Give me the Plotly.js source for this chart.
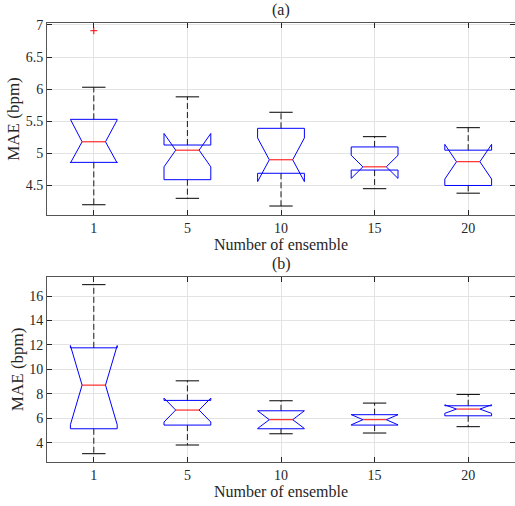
<!DOCTYPE html>
<html>
<head>
<meta charset="utf-8">
<script src="https://cdn.plot.ly/plotly-3.0.1.min.js"></script>
<style>html,body{margin:0;padding:0;overflow:hidden;background:#fff}</style>
</head>
<body>
<div id="chart" style="width:515px;height:506px"></div>
<script>
// Categories
const categories = ['1', '5', '10', '15', '20'];

// (a) box statistics
const aWhiskLo = [4.20, 4.30, 4.18, 4.45, 4.38];
const aQ1      = [4.86, 4.59, 4.69, 4.74, 4.50];
const aNotchLo = [4.85, 4.79, 4.56, 4.61, 4.60];
const aMedian  = [5.18, 5.05, 4.90, 4.79, 4.87];
const aNotchHi = [5.52, 5.31, 5.24, 4.97, 5.14];
const aQ3      = [5.53, 5.13, 5.39, 5.10, 5.05];
const aWhiskHi = [6.03, 5.88, 5.64, 5.26, 5.40];
const aOutlierCat = ['1'];
const aOutlierVal = [6.91];

// (b) box statistics
const bWhiskLo = [3.10, 3.81, 4.73, 4.79, 5.31];
const bQ1      = [5.14, 5.44, 5.14, 5.44, 6.20];
const bNotchLo = [5.47, 5.69, 5.16, 5.46, 6.40];
const bMedian  = [8.71, 6.67, 5.88, 5.88, 6.75];
const bNotchHi = [11.95, 7.65, 6.60, 6.30, 7.10];
const bQ3      = [11.76, 7.46, 6.61, 6.29, 7.02];
const bWhiskHi = [16.93, 9.06, 7.43, 7.24, 7.95];
const bOutlierCat = [];
const bOutlierVal = [];

const W = 0.25; // half box width (axis units)

function boxTraces(st, xa, ya) {
  const bx = [], by = [], mx = [], my = [], wx = [], wy = [], cx = [], cy = [];
  categories.forEach((c, i) => {
    const x = i + 1;
    const q1 = st.q1[i], q3 = st.q3[i], md = st.med[i], nl = st.nlo[i], nh = st.nhi[i];
    bx.push(x - W, x - W, x - W / 2, x - W, x - W, x + W, x + W, x + W / 2, x + W, x + W, x - W, null);
    by.push(q1, nl, md, nh, q3, q3, nh, md, nl, q1, q1, null);
    mx.push(x - W / 2, x + W / 2, null); my.push(md, md, null);
    wx.push(x, x, null, x, x, null); wy.push(q3, st.whi[i], null, q1, st.wlo[i], null);
    cx.push(x - W / 2, x + W / 2, null, x - W / 2, x + W / 2, null);
    cy.push(st.whi[i], st.whi[i], null, st.wlo[i], st.wlo[i], null);
  });
  const ox = st.ocat.map(c => categories.indexOf(c) + 1);
  return [
    {x: wx, y: wy, xaxis: xa, yaxis: ya, mode: 'lines', line: {color: '#1a1a1a', width: 1, dash: '6px,3px'}, hoverinfo: 'skip'},
    {x: cx, y: cy, xaxis: xa, yaxis: ya, mode: 'lines', line: {color: '#000', width: 1}, hoverinfo: 'skip'},
    {x: bx, y: by, xaxis: xa, yaxis: ya, mode: 'lines', line: {color: '#0000ff', width: 1}, hoverinfo: 'skip'},
    {x: mx, y: my, xaxis: xa, yaxis: ya, mode: 'lines', line: {color: '#ff0000', width: 1}, hoverinfo: 'skip'},
    {x: ox, y: st.oval, xaxis: xa, yaxis: ya, mode: 'markers', marker: {symbol: 'cross-thin', size: 5, line: {color: '#ff0000', width: 1}}, hoverinfo: 'skip'}
  ];
}

const traces = [].concat(
  boxTraces({wlo: aWhiskLo, q1: aQ1, nlo: aNotchLo, med: aMedian, nhi: aNotchHi, q3: aQ3, whi: aWhiskHi, ocat: aOutlierCat, oval: aOutlierVal}, 'x', 'y'),
  boxTraces({wlo: bWhiskLo, q1: bQ1, nlo: bNotchLo, med: bMedian, nhi: bNotchHi, q3: bQ3, whi: bWhiskHi, ocat: bOutlierCat, oval: bOutlierVal}, 'x2', 'y2')
);

const FONT = 'Liberation Serif, Times New Roman, serif';
const TXT = '#262626';
const tickvalsX = categories.map((c, i) => i + 1);

function xAxis(anchor) {
  return {
    anchor: anchor, domain: [0, 1], range: [0.5, 5.5],
    tickvals: tickvalsX, ticktext: categories,
    ticks: 'inside', ticklen: 5, tickcolor: '#262626',
    showline: true, linecolor: '#555', linewidth: 1, mirror: 'ticks',
    showgrid: true, gridcolor: '#e3e3e3', gridwidth: 1, zeroline: false,
    tickfont: {family: FONT, size: 14, color: TXT},
    title: {text: 'Number of ensemble', font: {family: FONT, size: 16, color: TXT}, standoff: 1}
  };
}
function yAxis(anchor, domain, range, tickvals) {
  return {
    anchor: anchor, domain: domain, range: range, tickvals: tickvals,
    ticks: 'inside', ticklen: 5, tickcolor: '#262626',
    showline: true, linecolor: '#555', linewidth: 1, mirror: 'ticks',
    showgrid: true, gridcolor: '#e3e3e3', gridwidth: 1, zeroline: false,
    tickfont: {family: FONT, size: 14, color: TXT},
    title: {text: 'MAE (bpm)', font: {family: FONT, size: 17, color: TXT}, standoff: 1}
  };
}

const layout = {
  width: 515, height: 506,
  margin: {l: 47, r: 0, t: 23, b: 44},
  paper_bgcolor: '#fff', plot_bgcolor: '#fff',
  showlegend: false,
  xaxis: xAxis('y'),
  yaxis: yAxis('x', [0.5626, 1], [4.04, 7.03], [4.5, 5, 5.5, 6, 6.5, 7]),
  xaxis2: xAxis('y2'),
  yaxis2: yAxis('x2', [0, 0.4221], [2.42, 17.58], [4, 6, 8, 10, 12, 14, 16]),
  annotations: [
    {text: '(a)', xref: 'paper', yref: 'paper', x: 0.5, y: 1, yshift: 2, xanchor: 'center', yanchor: 'bottom', showarrow: false, font: {family: FONT, size: 16, color: TXT}},
    {text: '(b)', xref: 'paper', yref: 'paper', x: 0.5, y: 0.4221, yshift: 2, xanchor: 'center', yanchor: 'bottom', showarrow: false, font: {family: FONT, size: 16, color: TXT}}
  ]
};

Plotly.newPlot('chart', traces, layout, {staticPlot: true, displayModeBar: false});
</script>
</body>
</html>
